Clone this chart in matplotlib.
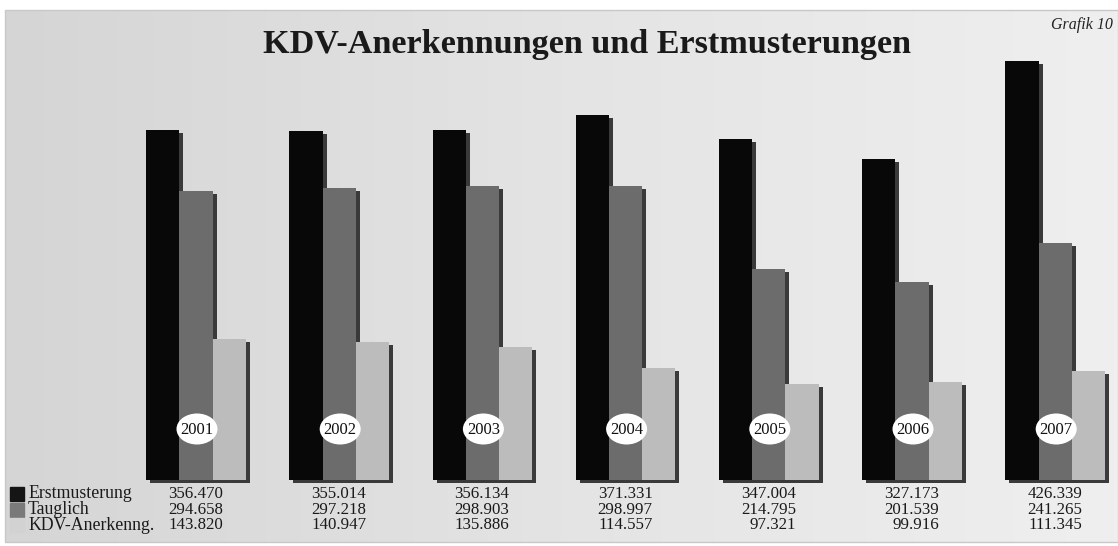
import matplotlib
matplotlib.use("Agg")
import matplotlib.pyplot as plt
import numpy as np
from matplotlib.patches import Rectangle, Ellipse

years = ["2001", "2002", "2003", "2004", "2005", "2006", "2007"]
erstmusterung = [356470, 355014, 356134, 371331, 347004, 327173, 426339]
tauglich = [294658, 297218, 298903, 298997, 214795, 201539, 241265]
kdv = [143820, 140947, 135886, 114557, 97321, 99916, 111345]
series_names = ["Erstmusterung", "Tauglich", "KDV-Anerkenng."]
bar_colors = ["#080808", "#6c6c6c", "#bcbcbc"]
legend_colors = ["#151515", "#7a7a7a", "#d2d2d2"]
title = "KDV-Anerkennungen und Erstmusterungen"

W, H = 1118, 546
fig = plt.figure(figsize=(W / 100, H / 100), dpi=100)
plt.rcParams['font.family'] = ['Liberation Serif', 'DejaVu Serif']

# background axes in pixel coords
bg = fig.add_axes([0, 0, 1, 1])
bg.set_xlim(0, W)
bg.set_ylim(H, 0)
bg.axis('off')
grad = np.linspace(0, 1, 256)[None, :]
bg.imshow(grad, cmap=matplotlib.colors.LinearSegmentedColormap.from_list('g', ['#d5d5d5', '#e4e4e4', '#efefef']),
          extent=(5, W, 542, 10), aspect='auto', zorder=0)
bg.add_patch(Rectangle((5, 10), W - 5, 532, fill=False, ec='#c8c8c8', lw=1, zorder=1))

# bars axes
ax = fig.add_axes([0, 0, 1, 1], facecolor='none')
px_per_group = 143.2
x0 = 196
ax.set_xlim(-x0 / px_per_group, (W - x0) / px_per_group)
scale = 0.000982  # px per unit
ax.set_ylim(-(H - 480) / scale, 480 / scale)
ax.axis('off')

w = 0.232
offsets = [-w, 0, w]
series = [erstmusterung, tauglich, kdv]
x = np.arange(len(years))
dx = 4 / px_per_group
dy = 3 / scale
# shadows
for s, off in zip(series, offsets):
    ax.bar(x + off + dx, s, width=w, bottom=-dy, color='#3a3a3a', zorder=2)
for s, off, c in zip(series, offsets, bar_colors):
    ax.bar(x + off, s, width=w, color=c, zorder=3)

# year labels in white ellipses (overlay axes, pixel coords)
ov = fig.add_axes([0, 0, 1, 1], facecolor='none')
ov.set_xlim(0, W)
ov.set_ylim(H, 0)
ov.axis('off')
for xi, yr in zip(x, years):
    cx = x0 + xi * px_per_group + 1
    ov.add_patch(Ellipse((cx, 429), 41, 31, fc='white', ec='none', zorder=5))
    ov.text(cx, 429.5, yr, ha='center', va='center', fontsize=12, color='#111111', zorder=6)

# title texts
fig.text(587 / W, 1 - 45 / H, title, ha='center', va='center', fontsize=24.6, fontweight='bold', color='#1a1a1a')
fig.text(1113 / W, 1 - 25 / H, "Grafik 10", ha='right', va='center', fontsize=11.5, style='italic', color='#222222')

# table
row_y = [494, 510, 525]
for r, (name, lc, s) in enumerate(zip(series_names, legend_colors, series)):
    yp = row_y[r]
    ov.add_patch(Rectangle((10, yp - 7), 14, 14, color=lc, zorder=3))
    ov.text(28, yp, name, ha='left', va='center', fontsize=12.8, color='#1a1a1a')
    for xi, v in zip(x, s):
        label = f"{v // 1000}.{v % 1000:03d}"
        ov.text(x0 + xi * px_per_group + 27, yp, label, ha='right', va='center', fontsize=12.2, color='#1a1a1a')

fig.savefig('out.png', dpi=100)
